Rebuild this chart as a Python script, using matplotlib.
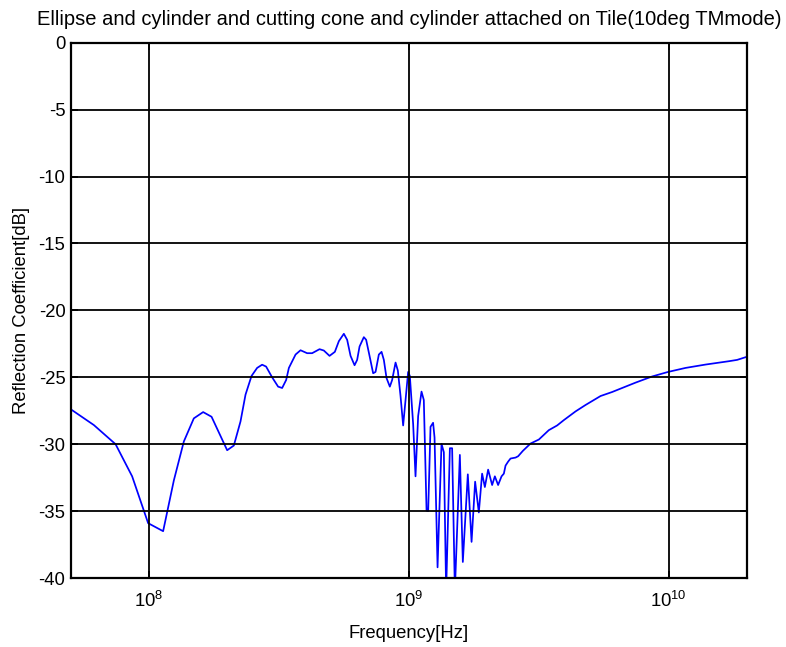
import numpy as np
import matplotlib
matplotlib.use("Agg")
import matplotlib.pyplot as plt
from matplotlib.ticker import NullLocator, FixedLocator

plt.rcParams['font.family'] = ['Liberation Sans', 'DejaVu Sans']
plt.rcParams['mathtext.fontset'] = 'custom'
plt.rcParams['mathtext.rm'] = 'Liberation Sans'
plt.rcParams['mathtext.it'] = 'Liberation Sans'
plt.rcParams['axes.unicode_minus'] = False

title = "Ellipse and cylinder and cutting cone and cylinder attached on Tile(10deg TMmode)"
xlabel = "Frequency[Hz]"
ylabel = "Reflection Coefficient[dB]"

freq_hz = [
    5.0e7, 6.125e7, 7.425e7, 8.60e7, 9.91e7, 1.132e8, 1.245e8, 1.360e8, 1.486e8, 1.614e8,
    1.739e8, 1.997e8, 2.119e8, 2.248e8, 2.350e8, 2.479e8, 2.605e8, 2.723e8, 2.821e8, 2.975e8,
    3.138e8, 3.252e8, 3.370e8, 3.452e8, 3.663e8, 3.828e8, 4.058e8, 4.242e8, 4.530e8, 4.706e8,
    4.950e8, 5.189e8, 5.377e8, 5.620e8, 5.787e8, 5.964e8, 6.180e8, 6.323e8, 6.460e8, 6.710e8,
    6.849e8, 7.058e8, 7.287e8, 7.444e8, 7.665e8, 7.851e8, 8.012e8, 8.206e8, 8.450e8, 8.625e8,
    8.889e8, 9.072e8, 9.290e8, 9.508e8, 9.712e8, 9.938e8, 1.009e9, 1.039e9, 1.061e9, 1.086e9,
    1.119e9, 1.142e9, 1.170e9, 1.187e9, 1.212e9, 1.240e9, 1.256e9, 1.290e9, 1.336e9, 1.364e9,
    1.392e9, 1.439e9, 1.468e9, 1.504e9, 1.572e9, 1.614e9, 1.687e9, 1.744e9, 1.800e9, 1.860e9,
    1.915e9, 1.962e9, 2.020e9, 2.093e9, 2.144e9, 2.207e9, 2.275e9, 2.322e9, 2.357e9, 2.412e9,
    2.464e9, 2.576e9, 2.636e9, 2.748e9, 2.942e9, 3.168e9, 3.460e9, 3.724e9, 3.953e9, 4.385e9,
    4.791e9, 5.474e9, 6.066e9, 6.628e9, 7.463e9, 8.646e9, 9.96e9, 1.163e10, 1.388e10, 1.707e10,
    1.837e10, 1.980e10,
]
refl_db = [
    -27.4, -28.57, -30.0, -32.4, -35.9, -36.5, -32.7, -29.8, -28.07, -27.6,
    -27.95, -30.45, -30.1, -28.3, -26.3, -24.9, -24.3, -24.06, -24.2, -25.0,
    -25.7, -25.8, -25.2, -24.3, -23.3, -22.98, -23.2, -23.2, -22.9, -23.0,
    -23.4, -23.1, -22.3, -21.75, -22.2, -23.4, -24.1, -23.7, -22.7, -22.0,
    -22.2, -23.4, -24.7, -24.6, -23.3, -23.1, -23.7, -25.06, -25.7, -25.2,
    -23.9, -24.5, -26.4, -28.6, -26.7, -24.6, -24.9, -28.5, -32.4, -27.9,
    -26.07, -26.7, -34.96, -35.0, -28.7, -28.4, -29.5, -39.2, -29.97, -30.6,
    -41.0, -30.3, -30.3, -41.0, -30.8, -38.8, -32.25, -37.3, -32.8, -35.1,
    -32.2, -33.2, -31.9, -33.05, -32.4, -33.05, -32.4, -32.2, -31.6, -31.3,
    -31.07, -31.0, -30.9, -30.5, -29.95, -29.65, -28.95, -28.6, -28.2, -27.55,
    -27.07, -26.4, -26.1, -25.8, -25.4, -24.94, -24.6, -24.3, -24.05, -23.8,
    -23.7, -23.5,
]
x_limits = [5e7, 2e10]
y_limits = [-40, 0]
y_ticks = [-40, -35, -30, -25, -20, -15, -10, -5, 0]
x_ticks = [1e8, 1e9, 1e10]
x_ticklabels = [r"$10^{8}$", r"$10^{9}$", r"$10^{10}$"]

fig = plt.figure(figsize=(7.86, 6.47), dpi=100)
ax = fig.add_axes([0.0903, 0.1066, 0.8597, 0.8274])
ax.plot(freq_hz, refl_db, color=(0, 0, 1), lw=1.25)
ax.set_xscale('log')
ax.set_xlim(x_limits)
ax.set_ylim(y_limits)
ax.xaxis.set_major_locator(FixedLocator(x_ticks))
ax.xaxis.set_minor_locator(NullLocator())
ax.set_xticklabels(x_ticklabels)
ax.set_yticks(y_ticks)
ax.grid(True, color='black', lw=1.3, ls='-')
ax.set_axisbelow(False)
for s in ax.spines.values():
    s.set_linewidth(1.6)
ax.tick_params(direction='in', length=5, width=1.3, labelsize=13.3, top=True, right=True,
               labeltop=False, labelright=False)
ax.tick_params(axis='x', pad=9)
ax.tick_params(axis='y', pad=4)
ax.set_title(title, fontsize=14.5, pad=13)
ax.set_xlabel(xlabel, fontsize=13.3, labelpad=10)
ax.set_ylabel(ylabel, fontsize=13.3, labelpad=6)
fig.savefig("out.png", dpi=100)
